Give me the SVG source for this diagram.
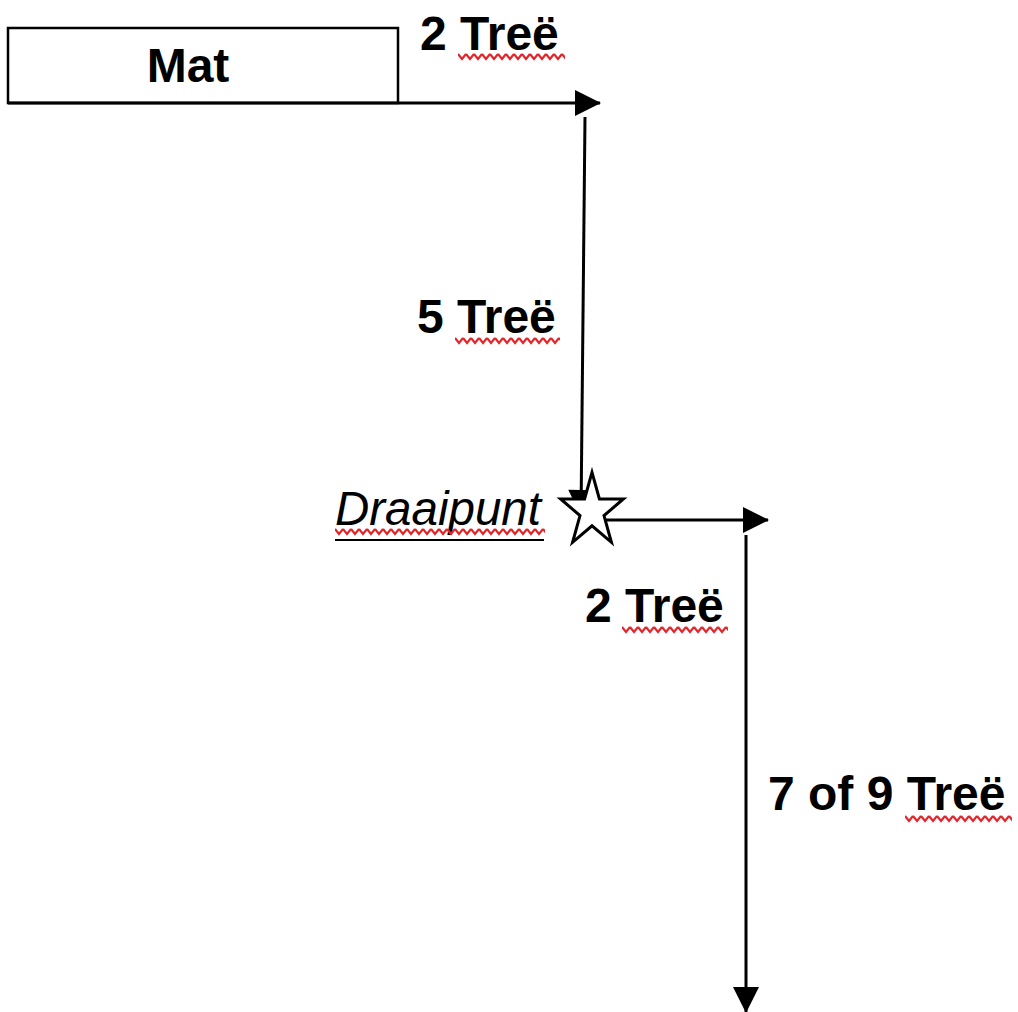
<svg xmlns="http://www.w3.org/2000/svg" width="1018" height="1012" viewBox="0 0 1018 1012">
<style>
.lbl{font-family:"Liberation Sans",Arial,sans-serif;font-weight:bold;font-size:48px;fill:#000}
.ln{stroke:#000;stroke-width:3;fill:none}
.sq{fill:url(#squig)}
</style>
<defs>
<marker id="ah" markerUnits="userSpaceOnUse" markerWidth="26" markerHeight="28" refX="25" refY="13" orient="auto" overflow="visible">
<path d="M0,0 L26,13 L0,26 Z" fill="#000"/>
</marker>
<pattern id="squig" patternUnits="userSpaceOnUse" width="8" height="9">
<path d="M0,2 L4,7 L8,2" stroke="#e3242b" stroke-width="2.2" fill="none"/>
</pattern>
</defs>
<rect width="1018" height="1012" fill="#fff"/>
<g id="connectors">
<path class="ln" d="M8,103 L600,103" marker-end="url(#ah)"/>
<path class="ln" d="M585,117 L581,515" marker-end="url(#ah)"/>
<path class="ln" d="M600,520 L768,520" marker-end="url(#ah)"/>
<path class="ln" d="M746,535 L746,1012" marker-end="url(#ah)"/>
</g>
<g id="mat">
<rect x="8" y="28" width="390" height="75" fill="none" stroke="#000" stroke-width="2.5"/>
<text class="lbl" x="188" y="82" text-anchor="middle" font-size="39">Mat</text>
</g>
<g id="star">
<path d="M592,472.3 L599.4,499 L623.4,499 L604,515.6 L611.4,542.3 L592,525.8 L572.6,542.3 L580,515.6 L560.6,499 L584.6,499 Z" fill="#fff" stroke="#000" stroke-width="3" stroke-linejoin="miter"/>
</g>
<g id="label-draaipunt">
<text x="335" y="525" font-family="'Liberation Sans',Arial,sans-serif" font-style="italic" font-size="47.5" fill="#000">Draaipunt</text>
<rect class="sq" x="0" y="0" width="210" height="9" transform="translate(335,527)"/>
<line x1="335" y1="540" x2="544" y2="540" stroke="#000" stroke-width="2.2"/>
</g>
<g id="label-1">
<text class="lbl" x="420" y="50">2 Treë</text>
<rect class="sq" x="0" y="0" width="107" height="9" transform="translate(458,52)"/>
</g>
<g id="label-2">
<text class="lbl" x="417" y="333">5 Treë</text>
<rect class="sq" x="0" y="0" width="105" height="9" transform="translate(455,336)"/>
</g>
<g id="label-3">
<text class="lbl" x="585" y="622">2 Treë</text>
<rect class="sq" x="0" y="0" width="106" height="9" transform="translate(622,625)"/>
</g>
<g id="label-4">
<text class="lbl" x="768" y="810">7 of 9 Treë</text>
<rect class="sq" x="0" y="0" width="107" height="9" transform="translate(905,814)"/>
</g>
</svg>
